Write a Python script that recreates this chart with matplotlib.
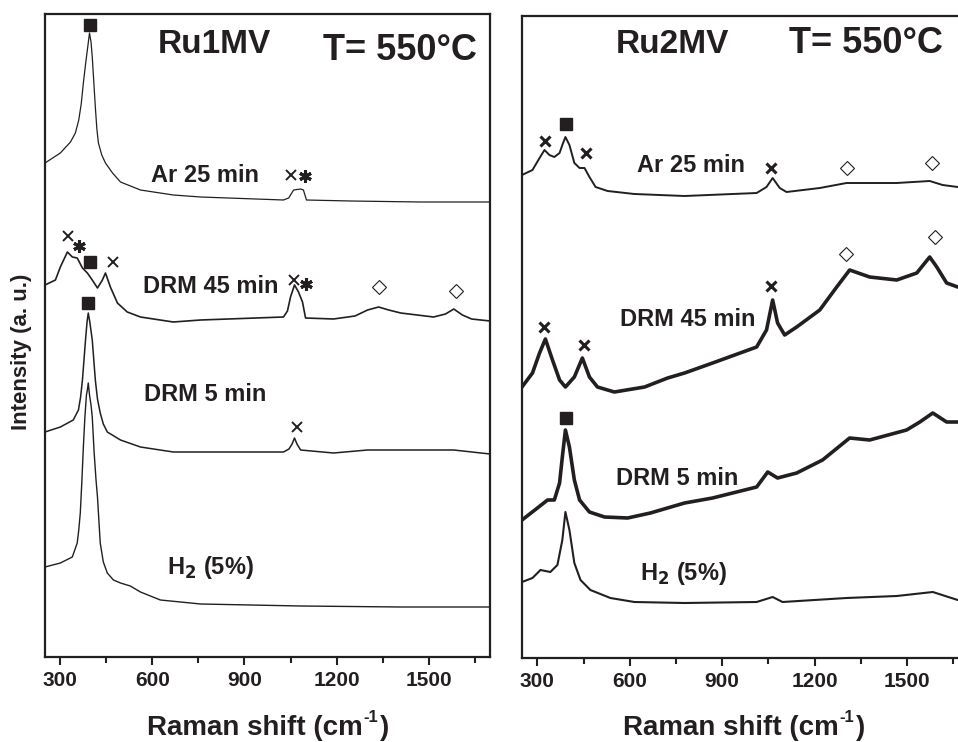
import numpy as np
import matplotlib
matplotlib.use("Agg")
import matplotlib.pyplot as plt

plt.rcParams['font.family'] = ['Liberation Sans', 'DejaVu Sans']
plt.rcParams['font.weight'] = 'bold'
plt.rcParams['mathtext.default'] = 'bf'

ink = '#231f20'

# ---- Ru1MV spectra (Raman shift in cm-1, intensity in a.u.) ----
ru1_ar25_x = [250, 300, 333, 349, 360, 368, 375, 383, 388, 395, 400, 404, 409, 414, 419, 424, 435, 447,
              470, 496, 561, 668, 757, 1027, 1044, 1060, 1083, 1092, 1102, 1246, 1474, 1700]
ru1_ar25_y = [494, 504, 515, 524, 537, 553, 574, 595, 607, 624, 615, 600, 575, 550, 528, 514, 502, 494,
              484, 475, 467, 462, 460, 457, 459, 467, 468, 467, 457, 456, 455, 455]

ru1_drm45_x = [250, 284, 300, 323, 339, 355, 372, 388, 404, 421, 437, 447, 463, 486, 518, 561, 668, 757,
               1027, 1040, 1050, 1063, 1076, 1089, 1099, 1190, 1260, 1301, 1337, 1370, 1409, 1516,
               1555, 1582, 1610, 1640, 1700]
ru1_drm45_y = [372, 377, 390, 405, 400, 399, 389, 384, 377, 369, 377, 384, 370, 354, 345, 340, 335, 337,
               340, 346, 360, 372, 365, 355, 339, 338, 341, 347, 350, 347, 344, 340,
               343, 348, 342, 338, 336]

ru1_drm5_x = [250, 300, 342, 359, 366, 372, 377, 382, 387, 391, 396, 404, 409, 414, 421, 430, 440, 453,
              496, 561, 668, 757, 1027, 1045, 1055, 1063, 1071, 1083, 1190, 1301, 1582, 1700]
ru1_drm5_y = [225, 230, 237, 247, 260, 277, 297, 317, 335, 344, 335, 317, 297, 277, 258, 244, 233, 225,
              217, 210, 205, 205, 205, 208, 213, 219, 213, 207, 204, 207, 207, 203]

ru1_h2_x = [250, 300, 339, 355, 360, 365, 370, 375, 380, 385, 388, 391, 395, 400, 404, 410, 416, 421,
            430, 440, 453, 473, 496, 528, 561, 626, 757, 1083, 1409, 1700]
ru1_h2_y = [90, 94, 100, 114, 127, 144, 175, 210, 240, 262, 267, 274, 262, 252, 240, 205, 178, 160,
            114, 95, 84, 77, 74, 71, 65, 57, 53, 51, 50, 50]

# ---- Ru2MV spectra ----
ru2_ar25_x = [250, 284, 307, 323, 339, 355, 372, 381, 391, 404, 420, 437, 453, 469, 489, 528, 615, 778,
              1012, 1044, 1064, 1087, 1109, 1217, 1304, 1467, 1574, 1616, 1665, 1700]
ru2_ar25_y = [483, 488, 500, 508, 503, 501, 505, 513, 521, 513, 495, 490, 490, 481, 471, 467, 464, 462,
              465, 471, 480, 470, 466, 470, 475, 475, 477, 473, 471, 471]

ru2_drm45_x = [250, 284, 307, 326, 349, 372, 391, 420, 446, 469, 495, 550, 648, 723, 778, 869,
               1012, 1044, 1064, 1080, 1103, 1142, 1217, 1272, 1314, 1379, 1467, 1532, 1574, 1597,
               1629, 1665, 1700]
ru2_drm45_y = [271, 285, 305, 319, 298, 278, 271, 281, 300, 281, 271, 266, 271, 280, 285, 295,
               311, 328, 358, 335, 323, 331, 348, 371, 388, 381, 378, 385, 401, 391,
               375, 371, 371]

ru2_drm5_x = [250, 300, 333, 355, 372, 381, 391, 404, 420, 437, 469, 518, 593, 667, 778, 869,
              1012, 1048, 1080, 1142, 1226, 1314, 1379, 1499, 1542, 1584, 1629, 1665, 1700]
ru2_drm5_y = [138, 150, 158, 158, 175, 201, 228, 211, 178, 158, 146, 141, 140, 145, 155, 160,
              171, 186, 180, 185, 198, 220, 218, 228, 236, 245, 236, 236, 236]

ru2_h2_x = [250, 284, 310, 342, 365, 381, 391, 404, 420, 440, 472, 537, 615, 778,
            1012, 1064, 1096, 1304, 1467, 1584, 1665, 1700]
ru2_h2_y = [76, 80, 88, 86, 93, 118, 146, 128, 95, 78, 68, 60, 56, 55,
            56, 61, 56, 60, 62, 66, 58, 58]

# band markers: (shift, intensity)
ru1_square = [(395, 632), (398, 395), (391, 354)]
ru1_cross = [(1050, 482), (326, 421), (470, 395), (1060, 377), (1070, 230)]
ru1_star = [(1096, 481), (362, 411), (1099, 373)]
ru1_diamond = [(1337, 370), (1588, 366)]
ru2_square = [(394, 534), (394, 240)]
ru2_cross = [(326, 517), (459, 505), (1057, 490), (323, 331), (450, 313), (1060, 372)]
ru2_diamond = [(1304, 490), (1581, 495), (1301, 404), (1590, 421)]

fig = plt.figure(figsize=(9.58, 7.42), dpi=100)
ax1 = fig.add_axes([45 / 958, 1 - 657 / 742, 445 / 958, 643 / 742])
ax2 = fig.add_axes([522 / 958, 1 - 658 / 742, 446.5 / 958, 642 / 742])


def draw_marks(ax, sq, cr, st, di, bold_cross):
    for x, y in sq:
        ax.plot(x, y, 's', ms=9, color=ink, mec=ink)
    for x, y in cr:
        ax.plot(x, y, 'x', ms=6.5, color=ink, mew=2.2 if bold_cross else 1.4)
    for x, y in st:
        ax.plot(x, y, marker=(6, 2, 0), ms=9, color=ink, mew=2.2)
    for x, y in di:
        ax.plot(x, y, 'D', ms=7.5, mfc='white', mec=ink, mew=0.8)


ax1.plot(ru1_ar25_x, ru1_ar25_y, color=ink, lw=0.9)
ax1.plot(ru1_drm45_x, ru1_drm45_y, color=ink, lw=1.2)
ax1.plot(ru1_drm5_x, ru1_drm5_y, color=ink, lw=1.1)
ax1.plot(ru1_h2_x, ru1_h2_y, color=ink, lw=1.0)
draw_marks(ax1, ru1_square, ru1_cross, ru1_star, ru1_diamond, False)

ax2.plot(ru2_ar25_x, ru2_ar25_y, color=ink, lw=1.4)
ax2.plot(ru2_drm45_x, ru2_drm45_y, color=ink, lw=2.6)
ax2.plot(ru2_drm5_x, ru2_drm5_y, color=ink, lw=2.6)
ax2.plot(ru2_h2_x, ru2_h2_y, color=ink, lw=1.5)
draw_marks(ax2, ru2_square, ru2_cross, [], ru2_diamond, True)

lab = dict(fontsize=17, fontweight='bold', color=ink, va='baseline')
ax1.text(770, 475, 'Ar 25 min', ha='center', **lab)
ax1.text(789, 364, 'DRM 45 min', ha='center', **lab)
ax1.text(773, 256, 'DRM 5 min', ha='center', **lab)
ax1.text(649, 83, r'H$_2$ (5%)', ha='left', **lab)
ax1.text(802, 604, 'Ru1MV', ha='center', fontsize=24, fontweight='bold', color=ink, va='baseline')
ax1.text(1405, 597, 'T= 550°C', ha='center', fontsize=26, fontweight='bold', color=ink, va='baseline')

ax2.text(800, 486, 'Ar 25 min', ha='center', **lab)
ax2.text(788, 332, 'DRM 45 min', ha='center', **lab)
ax2.text(755, 173, 'DRM 5 min', ha='center', **lab)
ax2.text(632, 78, r'H$_2$ (5%)', ha='left', **lab)
ax2.text(739, 605, 'Ru2MV', ha='center', fontsize=24, fontweight='bold', color=ink, va='baseline')
ax2.text(1366, 605, 'T= 550°C', ha='center', fontsize=26, fontweight='bold', color=ink, va='baseline')

for ax, top in ((ax1, 643), (ax2, 642)):
    ax.set_xlim(250, 1700)
    ax.set_ylim(0, top)
    ax.set_xticks([300, 600, 900, 1200, 1500])
    ax.set_xticks([450, 750, 1050, 1350, 1650], minor=True)
    ax.set_yticks([])
    ax.tick_params(axis='x', which='major', direction='out', length=6, width=1.5,
                   labelsize=15, pad=4, colors=ink)
    ax.tick_params(axis='x', which='minor', direction='out', length=4, width=1.5, colors=ink)
    for lbl in ax.get_xticklabels():
        lbl.set_fontweight('bold')
    for s in ax.spines.values():
        s.set_linewidth(1.6)
        s.set_color(ink)

fig.text(22 / 958, 1 - 352 / 742, 'Intensity (a. u.)', rotation=90, ha='center', va='center',
         fontsize=16, fontweight='bold', color=ink)

# x label with a small "-1" superscript, built from three pieces
renderer = fig.canvas.get_renderer()
for left_px in (147, 623):
    y0 = 1 - 735 / 742
    t1 = fig.text(left_px / 958, y0, 'Raman shift (cm', ha='left', va='baseline',
                  fontsize=20, fontweight='bold', color=ink)
    bb = t1.get_window_extent(renderer)
    t2 = fig.text((bb.x1 + 1) / 958, y0 + 13 / 742, '-1', ha='left', va='baseline',
                  fontsize=12, fontweight='bold', color=ink)
    bb2 = t2.get_window_extent(renderer)
    fig.text((bb2.x1 + 1) / 958, y0, ')', ha='left', va='baseline',
             fontsize=20, fontweight='bold', color=ink)

fig.savefig('out.png', dpi=100)
